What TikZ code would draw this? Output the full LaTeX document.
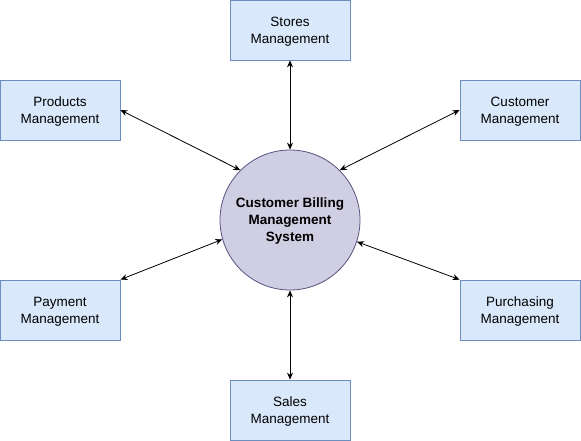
\documentclass[tikz,border=0pt]{standalone}
\usepackage{fontspec}
\setmainfont{Liberation Sans}
\definecolor{boxblue}{HTML}{DAE8FC}
\definecolor{boxline}{HTML}{6C8EBF}
\definecolor{sysfill}{HTML}{D0CEE2}
\definecolor{sysline}{HTML}{56517E}
\usetikzlibrary{arrows.meta}
\tikzset{
  module/.style={draw=boxline, fill=boxblue, line width=0.8pt, minimum width=120pt, minimum height=60pt, inner sep=0pt, align=center, text depth=-3pt, font=\fontsize{13.5}{17}\selectfont},
  core/.style={draw=sysline, fill=sysfill, line width=0.8pt, circle, minimum size=140pt, inner sep=0pt, align=center, text depth=-1pt, font=\fontsize{13.5}{17}\selectfont\bfseries},
  link/.style={{Stealth[length=7pt,width=6pt]}-{Stealth[length=7pt,width=6pt]}, line width=0.8pt}
}
\begin{document}
\begin{tikzpicture}[x=1pt,y=-1pt]

  \useasboundingbox (0,0) rectangle (581,441);

  \node [core] (sys) at (290,220) {Customer Billing\\Management\\System};

  \node [module] (stores) at (290,30) {Stores\\Management};
  \node [module] (products) at (60,110) {Products\\Management};
  \node [module] (customer) at (520,110) {Customer\\Management};
  \node [module] (payment) at (60,310) {Payment\\Management};
  \node [module] (purchasing) at (520,310) {Purchasing\\Management};
  \node [module] (sales) at (290,410) {Sales\\Management};

  % links to the system
  \draw [link] (stores) -- (sys);
  \draw [link] (sales) -- (sys);
  \draw [link] (products.east) -- (sys.135);
  \draw [link] (customer.west) -- (sys.45);
  \draw [link] (payment.north east) -- (sys.196);
  \draw [link] (purchasing.north west) -- (sys.-18);

\end{tikzpicture}
\end{document}
